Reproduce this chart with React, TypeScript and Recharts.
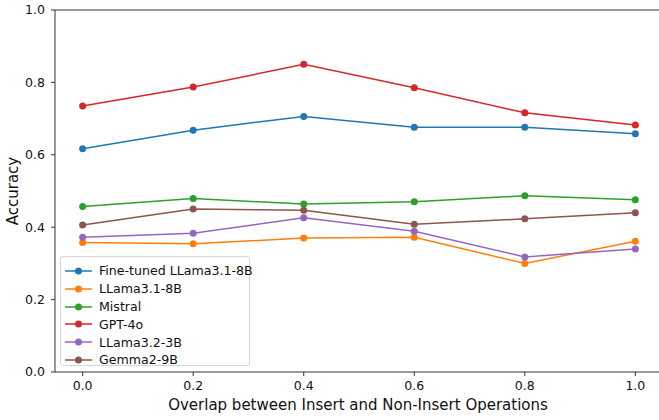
import { LineChart, Line, XAxis, YAxis, ReferenceLine } from "recharts";

// overlap ratio on the x axis
const overlap = [0.0, 0.2, 0.4, 0.6, 0.8, 1.0];

const fineTuned = [0.617, 0.668, 0.706, 0.676, 0.676, 0.658];
const llama31 = [0.358, 0.354, 0.37, 0.372, 0.3, 0.361];
const mistral = [0.457, 0.479, 0.464, 0.47, 0.487, 0.476];
const gpt4o = [0.735, 0.787, 0.85, 0.785, 0.716, 0.682];
const llama32 = [0.372, 0.383, 0.426, 0.389, 0.318, 0.34];
const gemma = [0.406, 0.45, 0.447, 0.408, 0.423, 0.44];

const xTicks = [0, 0.2, 0.4, 0.6, 0.8, 1.0];
const yTicks = [0, 0.2, 0.4, 0.6, 0.8, 1.0];

const SERIES = [
  { key: "ft", name: "Fine-tuned LLama3.1-8B", color: "#1f77b4", values: fineTuned },
  { key: "l31", name: "LLama3.1-8B", color: "#ff7f0e", values: llama31 },
  { key: "mis", name: "Mistral", color: "#2ca02c", values: mistral },
  { key: "gpt", name: "GPT-4o", color: "#d62728", values: gpt4o },
  { key: "l32", name: "LLama3.2-3B", color: "#9467bd", values: llama32 },
  { key: "gem", name: "Gemma2-9B", color: "#8c564b", values: gemma },
];

const data = overlap.map((x, i) => {
  const row: Record<string, number> = { x };
  SERIES.forEach((s) => (row[s.key] = s.values[i]));
  return row;
});

const FONT = "'DejaVu Sans', sans-serif";
const tick = { fill: "#111", fontSize: 12.5, fontFamily: FONT };

export default function App() {
  return (
    <div
      style={{
        position: "absolute",
        left: 0,
        top: 0,
        width: 659,
        height: 420,
        overflow: "hidden",
        background: "#fff",
      }}
    >
      <LineChart
        width={670}
        height={420}
        data={data}
        margin={{ top: 10, right: 7, left: 0, bottom: 0 }}
      >
        <XAxis
          dataKey="x"
          type="number"
          domain={[-0.05, 1.05]}
          ticks={xTicks}
          tickFormatter={(v: number) => v.toFixed(1)}
          tick={tick}
          tickSize={4}
          tickMargin={5}
          height={48}
          stroke="#333"
          allowDataOverflow
          label={{
            content: () => (
              <text x={358} y={410} textAnchor="middle" fontSize={15} fontFamily={FONT} fill="#111">
                Overlap between Insert and Non-Insert Operations
              </text>
            ),
          }}
        />
        <YAxis
          type="number"
          domain={[0, 1]}
          ticks={yTicks}
          tickFormatter={(v: number) => v.toFixed(1)}
          tick={tick}
          tickSize={4}
          tickMargin={6}
          width={55}
          stroke="#333"
          label={{
            content: () => (
              <text
                x={18}
                y={191}
                transform="rotate(-90 18 191)"
                textAnchor="middle"
                fontSize={15}
                fontFamily={FONT}
                fill="#111"
              >
                Accuracy
              </text>
            ),
          }}
        />
        <ReferenceLine y={1} stroke="#333" />
        {SERIES.map((s) => (
          <Line
            key={s.key}
            dataKey={s.key}
            name={s.name}
            stroke={s.color}
            strokeWidth={1.5}
            dot={{ r: 3.5, fill: s.color, stroke: s.color, strokeWidth: 0 }}
            isAnimationActive={false}
          />
        ))}
      </LineChart>
      <div
        style={{
          position: "absolute",
          left: 60,
          top: 256,
          width: 190,
          height: 110,
          border: "1px solid #d5d5d5",
          borderRadius: 3,
          background: "rgba(255,255,255,0.85)",
          fontFamily: FONT,
          fontSize: 12.6,
          color: "#111",
          paddingTop: 5,
          boxSizing: "border-box",
          whiteSpace: "nowrap",
        }}
      >
        {SERIES.map((s) => (
          <div key={s.key} style={{ display: "flex", alignItems: "center", height: 17.8 }}>
            <svg width={38} height={18} style={{ flex: "none" }}>
              <line x1={4} x2={31} y1={9} y2={9} stroke={s.color} strokeWidth={1.5} />
              <circle cx={17.5} cy={9} r={3.5} fill={s.color} />
            </svg>
            <span style={{ whiteSpace: "nowrap" }}>{s.name}</span>
          </div>
        ))}
      </div>
    </div>
  );
}
